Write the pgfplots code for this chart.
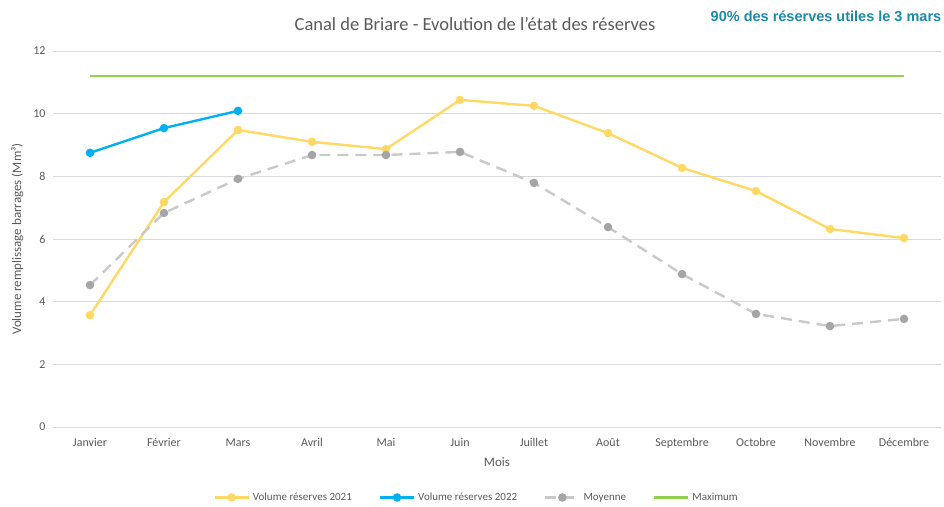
\documentclass[border=0pt]{standalone}
\usepackage{pgfplots}
\pgfplotsset{compat=1.18}
\usepackage{fontspec}
\setmainfont{Carlito}
\newfontfamily\arialb{Liberation Sans}
\definecolor{txtgray}{HTML}{595959}
\definecolor{gridgray}{HTML}{D9D9D9}
\definecolor{c2021}{HTML}{FFD966}
\definecolor{c2022}{HTML}{00B0F0}
\definecolor{cmoyl}{HTML}{C9C9C9}
\definecolor{cmoym}{HTML}{A5A5A5}
\definecolor{cmax}{HTML}{92D050}
\definecolor{cnote}{HTML}{1B8AA6}
\begin{document}
\begin{tikzpicture}[x=1pt,y=1pt]
\useasboundingbox (-53,-79) rectangle (891,427);
\begin{axis}[
  at={(0,0)}, anchor=south west,
  scale only axis, width=888pt, height=376pt,
  xmin=-0.5, xmax=11.5, ymin=0, ymax=12,
  xtick={0,...,11},
  xticklabels={Janvier,Février,Mars,Avril,Mai,Juin,Juillet,Août,Septembre,Octobre,Novembre,Décembre},
  ytick={0,2,...,12},
  axis line style={draw=none},
  axis x line*=bottom,
  x axis line style={draw=gridgray, line width=0.8pt},
  major tick length=0pt,
  ymajorgrids, grid style={gridgray, line width=0.8pt},
  tick label style={font=\fontsize{12}{14}\selectfont, text=txtgray},
  /pgf/number format/assume math mode=true,
  yticklabel style={xshift=-4pt},
  xticklabel style={yshift=-8pt},
  xlabel={Mois}, ylabel={Volume remplissage barrages (Mm³)},
  label style={font=\fontsize{13}{15}\selectfont, text=txtgray},
  xlabel style={yshift=-2pt},
  ylabel style={yshift=3pt},
  legend columns=4,
  legend style={at={(0.477,-0.1875)}, anchor=center, draw=none, fill=none,
    font=\fontsize{11}{13}\selectfont, text=txtgray,
    nodes={text height=8pt, text depth=2.5pt},
    /tikz/every odd column/.append style={column sep=1pt},
    /tikz/every even column/.append style={column sep=25pt}},
  legend image code/.code={\draw[mark repeat=2,mark phase=2] plot coordinates {(0pt,0pt) (17pt,0pt) (34pt,0pt)};},
  clip=false,
]
\addplot[c2021, line width=2.4pt, mark=*, mark size=3pt, mark options={fill=c2021, draw=c2021}] coordinates {
(0,3.57) (1,7.18) (2,9.48) (3,9.10) (4,8.87) (5,10.44) (6,10.25) (7,9.38) (8,8.27) (9,7.53) (10,6.32) (11,6.03)};
\addlegendentry{Volume réserves 2021}
\addplot[c2022, line width=2.4pt, mark=*, mark size=3pt, mark options={fill=c2022, draw=c2022}] coordinates {
(0,8.75) (1,9.54) (2,10.09)};
\addlegendentry{Volume réserves 2022}
\addplot[cmoyl, line width=2.4pt, dash pattern=on 11pt off 7pt, mark=*, mark size=3pt, mark options={fill=cmoym, draw=cmoym, solid}] coordinates {
(0,4.53) (1,6.83) (2,7.92) (3,8.68) (4,8.68) (5,8.78) (6,7.79) (7,6.38) (8,4.88) (9,3.61) (10,3.22) (11,3.45)};
\addlegendentry{Moyenne}
\addplot[cmax, line width=2.4pt] coordinates {(0,11.2) (11,11.2)};
\addlegendentry{Maximum}
\end{axis}
\node[text=txtgray, font=\fontsize{18.5}{20}\selectfont] at (422,403) {Canal de Briare - Evolution de l'état des réserves};
\node[text=cnote, font=\arialb\bfseries\fontsize{14.5}{16}\selectfont] at (773,411) {90\% des réserves utiles le 3 mars};
\end{tikzpicture}
\end{document}
